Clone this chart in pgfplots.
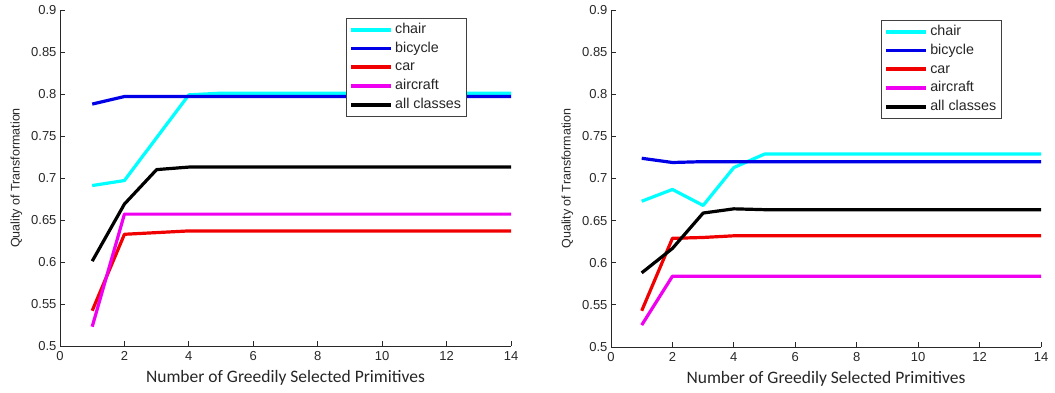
\documentclass[border=0pt]{standalone}
\usepackage{pgfplots}
\pgfplotsset{compat=1.18}
\usepackage{fontspec}
\setmainfont{Liberation Sans}
\newfontfamily\calibri{Carlito}
\definecolor{mcyan}{RGB}{0,255,255}
\definecolor{mblue}{RGB}{0,0,230}
\definecolor{mred}{RGB}{240,0,0}
\definecolor{mmag}{RGB}{240,0,240}
\definecolor{axgray}{RGB}{40,40,40}
\pgfplotsset{
  mystyle/.style={
    scale only axis,
    xmin=0, xmax=14, ymin=0.5, ymax=0.9,
    enlargelimits=false,
    axis x line=bottom, axis y line=left,
    axis line style={-, axgray, line width=0.8pt},
    tick style={axgray, line width=0.8pt},
    tick align=inside,
    major tick length=5pt,
    xtick={0,2,...,14},
    ytick={0.5,0.55,0.6,0.65,0.7,0.75,0.8,0.85,0.9},
    yticklabel style={/pgf/number format/fixed, /pgf/number format/precision=2},
    xticklabel style={yshift=-2pt},
    /pgf/number format/assume math mode=true,
    ticklabel style={font=\fontsize{13}{15}\selectfont, text=axgray},
    xlabel style={font=\calibri\fontsize{17.5}{19}\selectfont, text=black!85, yshift=-3pt},
    ylabel style={font=\fontsize{12.5}{14}\selectfont, text=black!85, yshift=2pt},
    xlabel={Number of Greedily Selected Primitives},
    ylabel={Quality of Transformation},
    legend cell align=left,
    legend image code/.code={\draw[#1, line width=3.8pt] (0pt,0pt) -- (40pt,0pt);},
    legend style={anchor=north west, draw=black!75, line width=0.8pt,
      font=\fontsize{14.3}{16}\selectfont, text=black!85,
      row sep=0pt, inner xsep=3pt, inner ysep=2pt,
      nodes={inner ysep=2.6pt, text height=10.5pt, text depth=3pt}},
    every axis plot/.append style={line width=3.2pt, line join=round},
  }
}
\begin{document}
\begin{tikzpicture}
\path[use as bounding box] (0pt,0pt) rectangle (1055pt,392pt);
\begin{axis}[mystyle, at={(60pt,46pt)}, anchor=south west, width=451pt, height=336pt,
  legend style={at={(0.634,0.976)}}]
\addplot[mcyan] coordinates {(1,0.691) (2,0.697) (3,0.748) (4,0.799) (5,0.801) (6,0.801) (7,0.801) (8,0.801) (9,0.801) (10,0.801) (11,0.801) (12,0.801) (13,0.801) (14,0.801)};
\addplot[mblue] coordinates {(1,0.788) (2,0.797) (3,0.797) (4,0.797) (5,0.797) (6,0.797) (7,0.797) (8,0.797) (9,0.797) (10,0.797) (11,0.797) (12,0.797) (13,0.797) (14,0.797)};
\addplot[mred] coordinates {(1,0.542) (2,0.633) (3,0.635) (4,0.637) (5,0.637) (6,0.637) (7,0.637) (8,0.637) (9,0.637) (10,0.637) (11,0.637) (12,0.637) (13,0.637) (14,0.637)};
\addplot[mmag] coordinates {(1,0.523) (2,0.657) (3,0.657) (4,0.657) (5,0.657) (6,0.657) (7,0.657) (8,0.657) (9,0.657) (10,0.657) (11,0.657) (12,0.657) (13,0.657) (14,0.657)};
\addplot[black] coordinates {(1,0.601) (2,0.669) (3,0.710) (4,0.713) (5,0.713) (6,0.713) (7,0.713) (8,0.713) (9,0.713) (10,0.713) (11,0.713) (12,0.713) (13,0.713) (14,0.713)};
\legend{chair,bicycle,car,aircraft,all classes}
\end{axis}
\begin{axis}[mystyle, at={(611pt,45pt)}, anchor=south west, width=430pt, height=337pt,
  legend style={at={(0.628,0.970)}}]
\addplot[mcyan] coordinates {(1,0.673) (2,0.687) (3,0.668) (4,0.713) (5,0.729) (6,0.729) (7,0.729) (8,0.729) (9,0.729) (10,0.729) (11,0.729) (12,0.729) (13,0.729) (14,0.729)};
\addplot[mblue] coordinates {(1,0.724) (2,0.719) (3,0.720) (4,0.720) (5,0.720) (6,0.720) (7,0.720) (8,0.720) (9,0.720) (10,0.720) (11,0.720) (12,0.720) (13,0.720) (14,0.720)};
\addplot[mred] coordinates {(1,0.543) (2,0.629) (3,0.630) (4,0.632) (5,0.632) (6,0.632) (7,0.632) (8,0.632) (9,0.632) (10,0.632) (11,0.632) (12,0.632) (13,0.632) (14,0.632)};
\addplot[mmag] coordinates {(1,0.526) (2,0.584) (3,0.584) (4,0.584) (5,0.584) (6,0.584) (7,0.584) (8,0.584) (9,0.584) (10,0.584) (11,0.584) (12,0.584) (13,0.584) (14,0.584)};
\addplot[black] coordinates {(1,0.588) (2,0.617) (3,0.659) (4,0.664) (5,0.663) (6,0.663) (7,0.663) (8,0.663) (9,0.663) (10,0.663) (11,0.663) (12,0.663) (13,0.663) (14,0.663)};
\legend{chair,bicycle,car,aircraft,all classes}
\end{axis}
\end{tikzpicture}
\end{document}
